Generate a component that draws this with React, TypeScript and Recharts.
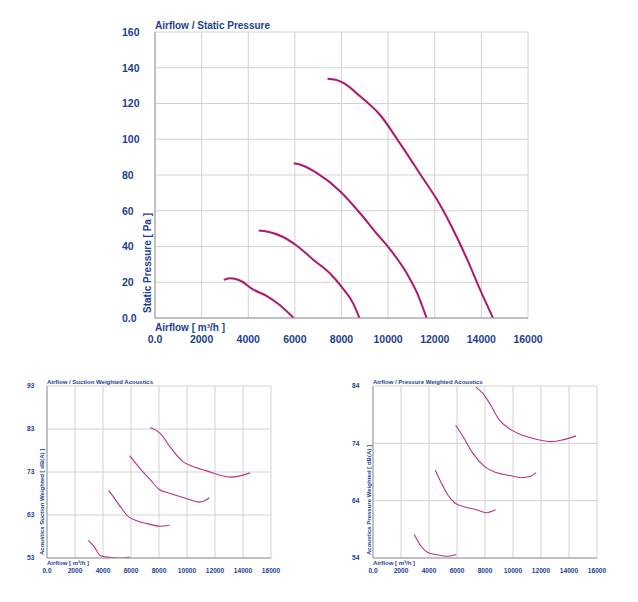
import React from 'react';
import { LineChart, Line, XAxis, YAxis, CartesianGrid } from 'recharts';

// airflow axis shared by all three charts
const airflowTicks = [0, 2000, 4000, 6000, 8000, 10000, 12000, 14000, 16000];
const pressureTicks = [0, 20, 40, 60, 80, 100, 120, 140, 160];
const suctionDbTicks = [53, 63, 73, 83, 93];
const pressureDbTicks = [54, 64, 74, 84];

// [airflow m³/h, value]
const staticCurve1 = [[2950, 21.3], [3200, 22.2], [3650, 21], [4200, 16], [4800, 12.3], [5350, 7.3], [5950, 0]];
const staticCurve2 = [[4450, 48.9], [4800, 48.4], [5450, 45.6], [6100, 40.3], [6800, 32.5], [7500, 25], [8000, 17.5], [8500, 8.2], [8770, 0]];
const staticCurve3 = [[5950, 86.6], [6250, 85.7], [6950, 81], [7950, 70.8], [8800, 58.6], [9500, 47.4], [10100, 38.1], [10800, 25], [11250, 13.8], [11650, 0]];
const staticCurve4 = [[7400, 133.9], [7750, 133.3], [8100, 131.4], [8800, 124], [9650, 113.7], [10500, 97.8], [11400, 80], [12100, 66.1], [12650, 53], [13400, 32.5], [13950, 15.7], [14500, 0]];

const suctionCurve1 = [[2950, 57.1], [3350, 55.7], [3800, 53.6], [4300, 53.2], [5250, 53.0], [5900, 53.2]];
const suctionCurve2 = [[4400, 68.7], [4750, 67.2], [5250, 64.9], [5850, 62.5], [6300, 61.8], [7150, 61.0], [8100, 60.4], [8750, 60.6]];
const suctionCurve3 = [[5900, 76.8], [6650, 73.8], [7400, 71.1], [8000, 69.0], [8800, 68.0], [10000, 66.8], [10850, 66.0], [11300, 66.4], [11600, 67.0]];
const suctionCurve4 = [[7350, 83.3], [7750, 82.8], [8100, 81.9], [8800, 78.8], [9750, 75.3], [10250, 74.5], [11450, 73.2], [12400, 72.2], [13100, 71.8], [13800, 72.1], [14500, 72.8]];

const pressureDbCurve1 = [[2950, 58.1], [3450, 56.0], [3950, 54.9], [4500, 54.6], [5350, 54.3], [5950, 54.6]];
const pressureDbCurve2 = [[4450, 69.3], [4900, 67.0], [5350, 65.0], [5850, 63.6], [6450, 63.0], [7400, 62.4], [8100, 61.9], [8750, 62.4]];
const pressureDbCurve3 = [[5900, 77.2], [6450, 75.1], [7150, 72.2], [8000, 69.9], [8800, 68.9], [9750, 68.4], [10600, 68.0], [11200, 68.2], [11650, 68.9]];
const pressureDbCurve4 = [[7350, 83.8], [7850, 82.7], [8350, 80.9], [9050, 78.0], [9900, 76.3], [10700, 75.4], [11650, 74.7], [12750, 74.3], [13550, 74.6], [14500, 75.3]];

const FONT = "'Liberation Sans', Arial, Helvetica, sans-serif";
const TEXT = '#1c3f94';

const toRows = (pts: number[][]) => pts.map(([airflow, value]) => ({ airflow, value }));
const fmt = (v: number) => (v === 0 ? '0.0' : String(v));

type PanelProps = {
  width: number;
  height: number;
  margin: { top: number; right: number; bottom: number; left: number };
  yAxisWidth: number;
  xAxisHeight: number;
  yTicks: number[];
  curves: number[][][];
  title: string;
  yLabel: string;
  fontSize: number;
  tickFontSize: number;
  stroke: string;
  strokeWidth: number;
  titleY: number;
  xLabelY: number;
  xTickY: number;
  yLabelX: number;
  yLabelBottom: number;
};

const Panel = (p: PanelProps) => {
  const plotLeft = p.margin.left + p.yAxisWidth;
  const textStyle = { fontFamily: FONT, fontWeight: 700, fill: TEXT };

  const YTick = (props: any) => (
    <text x={p.margin.left} y={props.y} dy={p.tickFontSize * 0.36} textAnchor="start" fontSize={p.tickFontSize} style={textStyle}>
      {fmt(props.payload.value)}
    </text>
  );
  const XTick = (props: any) => (
    <text x={props.x} y={p.xTickY} textAnchor="middle" fontSize={p.tickFontSize} style={textStyle}>
      {fmt(props.payload.value)}
    </text>
  );

  return (
    <LineChart width={p.width} height={p.height} margin={p.margin}>
      <CartesianGrid stroke="#d2d2d2" strokeWidth={1} />
      <XAxis
        type="number"
        dataKey="airflow"
        domain={[0, 16000]}
        ticks={airflowTicks}
        allowDataOverflow
        height={p.xAxisHeight}
        tickLine={false}
        axisLine={{ stroke: '#9a9a9a' }}
        tick={<XTick />}
        interval={0}
      />
      <YAxis
        type="number"
        dataKey="value"
        domain={[p.yTicks[0], p.yTicks[p.yTicks.length - 1]]}
        ticks={p.yTicks}
        allowDataOverflow
        width={p.yAxisWidth}
        tickLine={false}
        axisLine={{ stroke: '#9a9a9a' }}
        tick={<YTick />}
        interval={0}
      />
      {p.curves.map((c, i) => (
        <Line
          key={i}
          data={toRows(c)}
          dataKey="value"
          type="monotone"
          stroke={p.stroke}
          strokeWidth={p.strokeWidth}
          dot={false}
          activeDot={false}
          isAnimationActive={false}
        />
      ))}
      <text x={plotLeft} y={p.titleY} fontSize={p.fontSize} style={textStyle}>{p.title}</text>
      <text x={plotLeft} y={p.xLabelY} fontSize={p.fontSize} style={textStyle}>Airflow [ m³/h ]</text>
      <text
        x={p.yLabelX}
        y={p.yLabelBottom}
        transform={`rotate(-90 ${p.yLabelX} ${p.yLabelBottom})`}
        fontSize={p.fontSize}
        style={textStyle}
      >
        {p.yLabel}
      </text>
    </LineChart>
  );
};

const App = () => {
  return (
    <div style={{ position: 'absolute', left: 0, top: 0, width: 638, height: 602, background: '#fff' }}>
      <div style={{ position: 'absolute', left: 0, top: 0 }}>
        <Panel
          width={638}
          height={360}
          margin={{ top: 32, right: 110, bottom: 12, left: 122 }}
          yAxisWidth={33}
          xAxisHeight={30}
          yTicks={pressureTicks}
          curves={[staticCurve1, staticCurve2, staticCurve3, staticCurve4]}
          title="Airflow / Static Pressure"
          yLabel="Static Pressure [ Pa ]"
          fontSize={10}
          tickFontSize={10.5}
          stroke="#b01673"
          strokeWidth={2}
          titleY={28.5}
          xLabelY={330.5}
          xTickY={342.8}
          yLabelX={150.5}
          yLabelBottom={313}
        />
      </div>
      <div style={{ position: 'absolute', left: 0, top: 370 }}>
        <Panel
          width={300}
          height={232}
          margin={{ top: 16, right: 29, bottom: 24, left: 27 }}
          yAxisWidth={20}
          xAxisHeight={20}
          yTicks={suctionDbTicks}
          curves={[suctionCurve1, suctionCurve2, suctionCurve3, suctionCurve4]}
          title="Airflow / Suction Weighted Acoustics"
          yLabel="Acoustics Suction Weighted [ dB(A) ]"
          fontSize={6}
          tickFontSize={6.6}
          stroke="#bb3088"
          strokeWidth={1.1}
          titleY={14}
          xLabelY={195}
          xTickY={203.2}
          yLabelX={43.7}
          yLabelBottom={185}
        />
      </div>
      <div style={{ position: 'absolute', left: 320, top: 370 }}>
        <Panel
          width={300}
          height={232}
          margin={{ top: 16, right: 23, bottom: 24, left: 32 }}
          yAxisWidth={21}
          xAxisHeight={20}
          yTicks={pressureDbTicks}
          curves={[pressureDbCurve1, pressureDbCurve2, pressureDbCurve3, pressureDbCurve4]}
          title="Airflow / Pressure Weighted Acoustics"
          yLabel="Acoustics Pressure Weighted [ dB(A) ]"
          fontSize={6}
          tickFontSize={6.6}
          stroke="#bb3088"
          strokeWidth={1.1}
          titleY={14}
          xLabelY={195}
          xTickY={203.2}
          yLabelX={51.3}
          yLabelBottom={185}
        />
      </div>
    </div>
  );
};

export default App;
